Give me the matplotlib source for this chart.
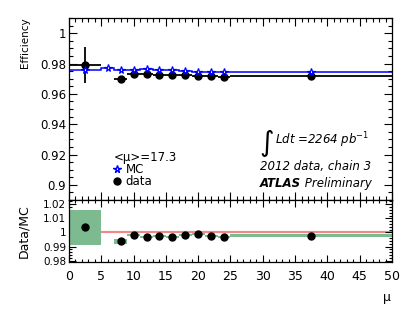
import numpy as np
import matplotlib
matplotlib.use('Agg')
import matplotlib.pyplot as plt
from matplotlib.ticker import MultipleLocator, FuncFormatter
from matplotlib.lines import Line2D

# mu bins (MC has one extra bin at 5-7 with no data)
mc_edges = [0, 5, 7, 9, 11, 13, 15, 17, 19, 21, 23, 25, 50]
mc_eff = [0.9757, 0.9770, 0.9761, 0.9757, 0.9763, 0.9755, 0.9757,
          0.9748, 0.9744, 0.9746, 0.9744, 0.9743]

data_lo = [0, 7, 9, 11, 13, 15, 17, 19, 21, 23, 25]
data_hi = [5, 9, 11, 13, 15, 17, 19, 21, 23, 25, 50]
data_eff = [0.9790, 0.9699, 0.9732, 0.9730, 0.9726, 0.9722, 0.9722,
            0.9721, 0.9716, 0.9712, 0.9717]
data_err = [0.0118, 0.0004, 0.0003, 0.0003, 0.0003, 0.0003, 0.0003,
            0.0003, 0.0003, 0.0003, 0.0003]

ratio = [1.0037, 0.9936, 0.9983, 0.9967, 0.9976, 0.9967, 0.9979,
         0.9986, 0.9974, 0.9971, 0.9976]
ratio_err = [0.0125, 0.0018, 0.0007, 0.0007, 0.0007, 0.0007, 0.0007,
             0.0007, 0.0007, 0.0007, 0.0010]

lo = np.array(data_lo)
hi = np.array(data_hi)
data_x = (lo + hi) / 2
mc_edges_a = np.array(mc_edges)
mc_x = (mc_edges_a[:-1] + mc_edges_a[1:]) / 2

fig = plt.figure(figsize=(4.07, 3.18), dpi=100)
ax = fig.add_axes([0.1695, 0.371, 0.7936, 0.572])
axr = fig.add_axes([0.1695, 0.176, 0.7936, 0.195])

fmt_g = FuncFormatter(lambda v, p: '%g' % round(v, 4))

for a in (ax, axr):
    a.set_xlim(0, 50)
    a.xaxis.set_major_locator(MultipleLocator(5))
    a.xaxis.set_minor_locator(MultipleLocator(1))
    a.tick_params(which='both', direction='in', top=True, right=True, width=0.8)
    a.tick_params(which='major', length=6)
    a.tick_params(which='minor', length=3)
    a.yaxis.set_major_formatter(fmt_g)
    for s in a.spines.values():
        s.set_linewidth(0.9)

# top panel
ax.set_ylim(0.89, 1.01)
ax.yaxis.set_major_locator(MultipleLocator(0.02))
ax.yaxis.set_minor_locator(MultipleLocator(0.005))
ax.tick_params(axis='x', labelbottom=False)
ax.tick_params(axis='y', labelsize=8.5, pad=2)

ax.stairs(mc_eff, mc_edges, color='blue', lw=1.1, baseline=None, zorder=2)
ax.plot(mc_x, mc_eff, ls='none', marker='*', ms=5.5, mfc='white', mec='blue',
        mew=0.9, zorder=4)
ax.errorbar(data_x, data_eff, xerr=[data_x - lo, hi - data_x], yerr=data_err,
            fmt='o', color='black', ms=5, elinewidth=1.3, capsize=0, zorder=3)

ax.text(0.588, 0.315, '\u222b', transform=ax.transAxes, fontsize=20,
        ha='left', va='center')
ax.text(0.638, 0.33, 'Ldt =2264 pb$^{-1}$', transform=ax.transAxes,
        fontsize=8.5, style='italic', ha='left', va='center')
ax.text(0.591, 0.187, '2012 data, chain 3', transform=ax.transAxes,
        fontsize=8.5, style='italic', ha='left', va='center')
t1 = ax.text(0.591, 0.093, 'ATLAS', transform=ax.transAxes, fontsize=8.5,
             style='italic', weight='bold', ha='left', va='center')
ax.annotate(' Preliminary', xy=(1, 0.5), xycoords=t1, fontsize=8.5,
            style='italic', ha='left', va='center')

handles = [Line2D([], [], ls='none', marker='*', ms=5.5, mfc='white', mec='blue'),
           Line2D([], [], ls='none', marker='o', ms=5, color='black')]
leg = ax.legend(handles, ['MC', 'data'], title='<\u03bc>=17.3', loc='upper left',
                bbox_to_anchor=(0.12, 0.3), frameon=False, fontsize=8.5,
                title_fontsize=8.5, handlelength=0.6, handletextpad=0.4,
                labelspacing=-0.1, borderpad=0, alignment='left')

# ratio panel
axr.set_ylim(0.979, 1.023)
axr.yaxis.set_major_locator(MultipleLocator(0.01))
axr.yaxis.set_minor_locator(MultipleLocator(0.002))
axr.tick_params(axis='y', labelsize=7.5, pad=2)
axr.tick_params(axis='x', labelsize=9, pad=6)
axr.tick_params(which='major', length=5)
axr.tick_params(which='minor', length=2.5)

axr.axhline(1.0, color='#f08a8a', lw=1.6, zorder=1)
r = np.array(ratio)
re = np.array(ratio_err)
axr.bar(lo, 2 * re, width=hi - lo, bottom=r - re, align='edge',
        color='#7dba90', lw=0, zorder=2)
axr.plot(data_x, ratio, 'o', color='black', ms=5, zorder=3)

fig.text(25 / 407, 1 - 17 / 318, 'Efficiency', rotation=90, ha='center',
         va='top', fontsize=7.5)
fig.text(24 / 407, 1 - 231 / 318, 'Data/MC', rotation=90, ha='center',
         va='center', fontsize=9)
fig.text(387 / 407, 1 - 297 / 318, '\u03bc', ha='center', va='center',
         fontsize=9)

fig.savefig('out.png', dpi=100)
